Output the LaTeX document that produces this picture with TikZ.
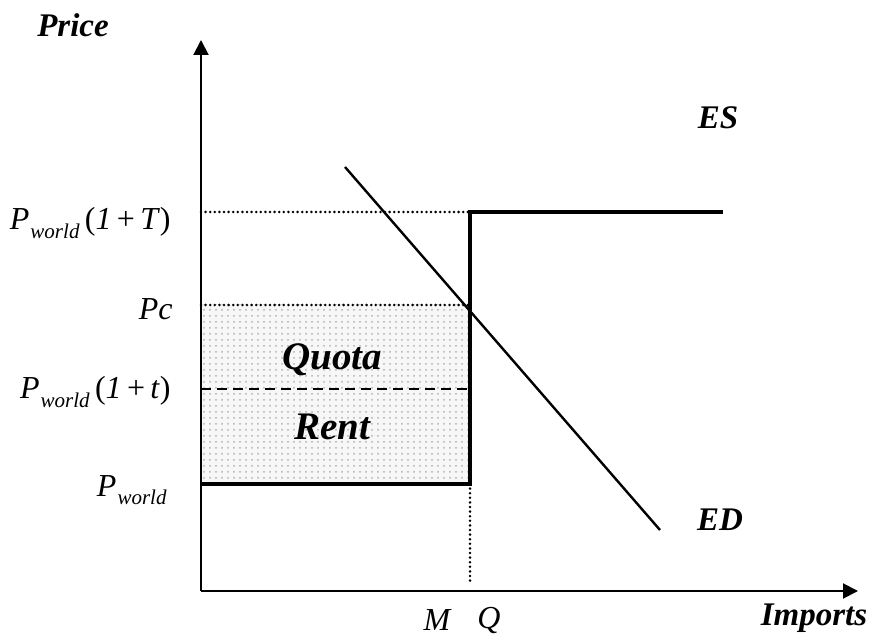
\documentclass[tikz,border=0pt]{standalone}
\usepackage{fontspec}
\setmainfont{Liberation Serif}
\usetikzlibrary{arrows.meta, patterns}

\newcommand\pworld{\textit{P}\kern0.5pt\raisebox{-0.55ex}{\fontsize{10.5}{11}\selectfont\textit{world}}}

\begin{document}
\begin{tikzpicture}[x=0.5pt, y=-0.5pt,
    axis/.style={line width=1pt, -{Triangle[length=7.5pt, width=7.5pt]}},
    guide/.style={line width=1.4pt, line cap=round, dash pattern=on 0pt off 2.3pt},
    tariff/.style={line width=1.1pt, dash pattern=on 5pt off 3pt},
    supply/.style={line width=1.7pt},
    demand/.style={line width=1.2pt},
    lab/.style={font=\fontsize{16.5}{18}\selectfont\bfseries\itshape, inner sep=0pt},
    plab/.style={font=\fontsize{16}{18}\selectfont, inner sep=0pt, anchor=base east},
    qlab/.style={font=\fontsize{16}{18}\selectfont\itshape, inner sep=0pt},
    rent/.style={font=\fontsize{19.5}{22}\selectfont\bfseries\itshape, inner sep=0pt}
  ]
  \useasboundingbox (0,0) rectangle (872,640);

  % -- points of the diagram --
  \coordinate (O) at (201,591);
  \coordinate (ytip) at (201,40);
  \coordinate (xtip) at (858,591);
  \coordinate (hiT) at (201,212);
  \coordinate (kink) at (470,212);
  \coordinate (esend) at (723,212);
  \coordinate (pc) at (201,305);
  \coordinate (pcq) at (470,305);
  \coordinate (lot) at (201,389);
  \coordinate (lotq) at (470,389);
  \coordinate (pw) at (201,484);
  \coordinate (base) at (470,484);
  \coordinate (qfoot) at (470,582);
  \coordinate (edtop) at (345,167);
  \coordinate (edbot) at (660,530);

  % -- quota rent area --
  \fill[black!3] (pc) rectangle (base);
  \fill[pattern=dots, pattern color=black!30] (pc) rectangle (base);

  % -- axes --
  \draw[axis] (O) -- (ytip);
  \draw[axis] (O) -- (xtip);

  % -- price levels --
  \draw[guide] (hiT) -- (kink);
  \draw[guide] (pc) -- (pcq);
  \draw[tariff] (lot) -- (lotq);
  \draw[guide] (base) -- (qfoot);

  % -- excess supply and demand --
  \draw[supply] (pw) -- (base) -- (kink) -- (esend);
  \draw[demand] (edtop) -- (edbot);

  % -- labels --
  \node[lab] (price) at (73,25) {Price};
  \node[lab] (imports) at (814,618) {Imports};
  \node[lab] (es) at (718,118) {ES};
  \node[lab] (ed) at (720,520) {ED};
  \node[rent] (quota) at (332,360) {Quota};
  \node[rent] (rentlab) at (332,427) {Rent};

  \node[plab] (lblT) at (171,230) {\pworld\,(\textit{1}\,+\,\textit{T})};
  \node[plab] (lblpc) at (173,320) {\textit{Pc}};
  \node[plab] (lblt) at (171,399) {\pworld\,(\textit{1}\,+\,\textit{t})};
  \node[plab] (lblpw) at (167,496) {\pworld};

  \node[qlab] (m) at (437,620) {M};
  \node[qlab] (q) at (489,620) {Q};
\end{tikzpicture}
\end{document}
